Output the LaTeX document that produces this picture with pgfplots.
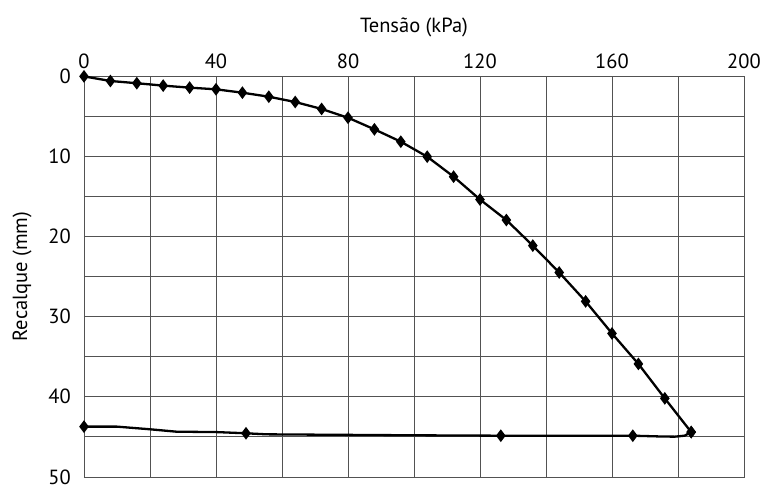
\documentclass[border=0pt]{standalone}
\usepackage{pgfplots}
\pgfplotsset{compat=1.18}
\usepackage{fontspec}
\setmainfont{PT Sans}
\newcommand\lblfont{\fontsize{20.5}{24}\selectfont}
\begin{document}
\begin{tikzpicture}
\useasboundingbox (-84pt,-9pt) rectangle (679pt,477pt);
\begin{axis}[
  at={(0pt,0pt)}, anchor=south west,
  scale only axis, width=660pt, height=401pt,
  xmin=0, xmax=200, ymin=0, ymax=50,
  y dir=reverse,
  xtick={0,40,...,200}, minor xtick={20,60,...,180},
  ytick={0,10,...,50}, minor ytick={5,15,...,45},
  grid=both,
  major grid style={black!68, line width=0.9pt},
  minor grid style={black!68, line width=0.9pt},
  axis line style={black!68, line width=0.9pt},
  major tick length=0pt, minor tick length=0pt,
  xticklabel pos=top,
  /pgf/number format/assume math mode=true,
  tick label style={font=\lblfont},
  xticklabel style={anchor=base, yshift=8pt},
  yticklabel style={anchor=east, inner sep=0pt, xshift=-13pt},
  xlabel={Tensão (kPa)},
  ylabel={Recalque (mm)},
  label style={font=\lblfont},
  xlabel style={at={(rel axis cs:0.5,1)}, anchor=base, yshift=44pt},
  ylabel style={at={(rel axis cs:-0.094,0.5)}, anchor=center},
]
\addplot[black, line width=2.3pt, mark=diamond*, mark size=4.5pt, mark options={solid}] coordinates {
(0,0.05) (8,0.62) (16,0.9) (24,1.2) (32,1.45) (40,1.66) (48,2.08) (56,2.58)
(64,3.24) (72,4.11) (80,5.2) (88,6.65) (96,8.19) (104,10.06) (112,12.55)
(120,15.4) (128,17.96) (136,21.15) (144,24.5) (152,28.1) (160,32.1)
(168,35.9) (176,40.2) (184,44.4)
};
\addplot[black, line width=2.3pt, mark=diamond*, mark size=4.5pt, mark indices={1,5,6,10,15}] coordinates {
(184,44.4) (182,44.85) (179,44.97) (175,44.95) (166.3,44.85) (126.3,44.85)
(100,44.8) (70,44.72) (55.4,44.68) (49.1,44.55) (40.2,44.4) (28,44.35)
(20,44.05) (10,43.72) (0,43.72)
};
\end{axis}
\end{tikzpicture}
\end{document}
